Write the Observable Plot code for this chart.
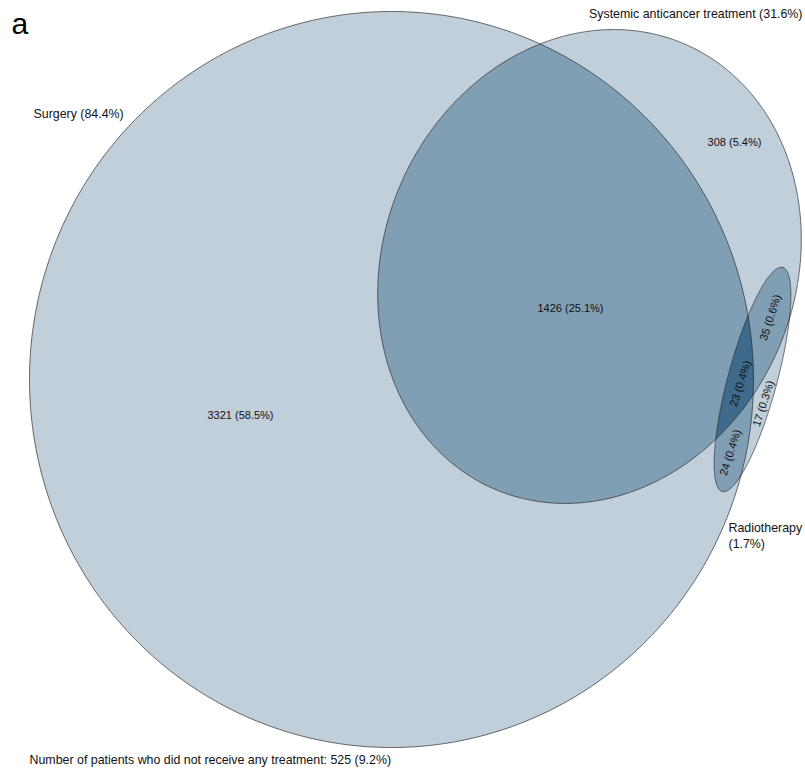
<!DOCTYPE html>
<html>
<head>
<meta charset="utf-8">
<script src="https://cdn.jsdelivr.net/npm/d3@7"></script>
<script src="https://cdn.jsdelivr.net/npm/@observablehq/plot@0.6"></script>
<style>
  html, body { margin: 0; padding: 0; background: #fff; overflow: hidden; }
  svg { display: block; }
</style>
</head>
<body>
<div id="chart"></div>
<script>
// ---------------- data ----------------
const panelLetter = "a";
const setNames = ["Surgery", "Systemic anticancer treatment", "Radiotherapy"];
const setPercents = [84.4, 31.6, 1.7];
// regions: S only, T only, S∩T, T∩R, S∩T∩R, R only, S∩R
const regionKeys = ["S", "T", "ST", "TR", "STR", "R", "SR"];
const regionCounts = [3321, 308, 1426, 35, 23, 17, 24];
const regionPercents = [58.5, 5.4, 25.1, 0.6, 0.4, 0.3, 0.4];
const noTreatmentCount = 525;
const noTreatmentPercent = 9.2;

// ---------------- layout (diagram units) ----------------
const W = 805, H = 769;
const ellipseCx = [391, 589, 752];
const ellipseCy = [379, 266, 379];
const ellipseRx = [362, 242, 116];
const ellipseRy = [368, 206, 24.5];
const ellipseAngle = [0, -67.2, -74.9]; // degrees

const regionLabelX = [240, 734, 570, 770, 740, 763, 730];
const regionLabelY = [415, 142, 308, 317, 383, 403, 452];
const regionLabelRotate = [0, 0, 0, -72, -72, -72, -72];

const setLabelX = [33, 802, 728];
const setLabelY = [114, 13.5, 534.5];

const colorLight = "#c1cfdb";
const colorMedium = "#809eb4";
const colorDark = "#3e6a8c";

// ---------------- geometry ----------------
function ellipsePoly(i, n = 1200) {
  const a = ellipseRx[i], b = ellipseRy[i], th = ellipseAngle[i] * Math.PI / 180;
  const c = Math.cos(th), s = Math.sin(th);
  const pts = [];
  for (let k = 0; k < n; k++) {
    const t = 2 * Math.PI * k / n;
    const u = a * Math.cos(t), v = b * Math.sin(t);
    pts.push([ellipseCx[i] + u * c - v * s, ellipseCy[i] + u * s + v * c]);
  }
  return pts;
}
function inside(i, p) {
  const th = ellipseAngle[i] * Math.PI / 180;
  const c = Math.cos(th), s = Math.sin(th);
  const dx = p[0] - ellipseCx[i], dy = p[1] - ellipseCy[i];
  const u = dx * c + dy * s, v = -dx * s + dy * c;
  return (u / ellipseRx[i]) ** 2 + (v / ellipseRy[i]) ** 2 <= 1.000001;
}
// intersection of convex ellipses: boundary points of each lying inside all others, sorted by angle
function intersection(ids) {
  const pts = [];
  for (const i of ids) {
    for (const p of ellipsePoly(i)) {
      if (ids.every(j => j === i || inside(j, p))) pts.push(p);
    }
  }
  const mx = d3.mean(pts, p => p[0]), my = d3.mean(pts, p => p[1]);
  pts.sort((a, b) => Math.atan2(a[1] - my, a[0] - mx) - Math.atan2(b[1] - my, b[0] - mx));
  return pts;
}
function toRows(poly, id) {
  return poly.map(([x, y]) => ({x, y, id}));
}

const single = [0, 1, 2].flatMap(i => toRows(ellipsePoly(i), "e" + i));
const pairs = [[0, 1], [0, 2], [1, 2]].flatMap(ids => toRows(intersection(ids), "p" + ids.join("")));
const triple = toRows(intersection([0, 1, 2]), "t");

const idx = regionCounts.map((_, i) => i);
const font = "'Liberation Sans', Arial, Helvetica, sans-serif";

const chart = Plot.plot({
  width: W,
  height: H,
  margin: 0,
  x: {domain: [0, W], range: [0, W], axis: null},
  y: {domain: [0, H], range: [0, H], axis: null},
  style: {fontFamily: font, background: "#fff", color: "#000"},
  marks: [
    Plot.line(single, {x: "x", y: "y", z: "id", curve: "linear-closed", fill: colorLight, stroke: "none"}),
    Plot.line(pairs, {x: "x", y: "y", z: "id", curve: "linear-closed", fill: colorMedium, stroke: "none"}),
    Plot.line(triple, {x: "x", y: "y", z: "id", curve: "linear-closed", fill: colorDark, stroke: "none"}),
    Plot.line(single, {x: "x", y: "y", z: "id", curve: "linear-closed", fill: "none", stroke: "#2a2a2a", strokeWidth: 0.7}),
    Plot.text(idx, {
      x: i => regionLabelX[i], y: i => regionLabelY[i], rotate: i => regionLabelRotate[i],
      text: i => `${regionCounts[i]} (${regionPercents[i].toFixed(1)}%)`,
      fontSize: 11, fill: "#111"
    }),
    Plot.text([0], {
      x: i => setLabelX[i], y: i => setLabelY[i], textAnchor: "start",
      text: i => `${setNames[i]} (${setPercents[i].toFixed(1)}%)`,
      fontSize: 12.4, fill: "#111"
    }),
    Plot.text([1], {
      x: i => setLabelX[i], y: i => setLabelY[i], textAnchor: "end",
      text: i => `${setNames[i]} (${setPercents[i].toFixed(1)}%)`,
      fontSize: 12.4, fill: "#111"
    }),
    Plot.text([2], {
      x: i => setLabelX[i], y: i => setLabelY[i], textAnchor: "start", lineHeight: 1.25,
      text: i => `${setNames[i]}\n(${setPercents[i].toFixed(1)}%)`,
      fontSize: 12.4, fill: "#111"
    }),
    Plot.text([panelLetter], {x: () => 11, y: () => 24, text: d => d, textAnchor: "start", fontSize: 30, fill: "#000"}),
    Plot.text([`Number of patients who did not receive any treatment: ${noTreatmentCount} (${noTreatmentPercent.toFixed(1)}%)`], {
      x: () => 29, y: () => 759.5, text: d => d, textAnchor: "start", fontSize: 12.4, fill: "#111"
    })
  ]
});
document.getElementById("chart").appendChild(chart);
</script>
</body>
</html>
